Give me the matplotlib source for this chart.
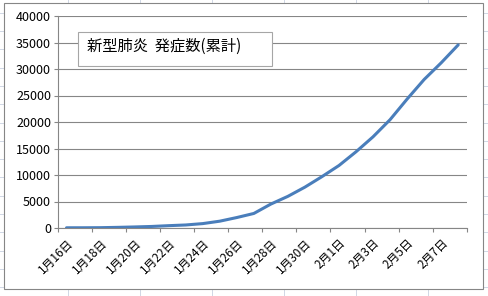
import matplotlib
matplotlib.use("Agg")
import matplotlib.pyplot as plt
from matplotlib.patches import Rectangle
from matplotlib.lines import Line2D

plt.rcParams['font.family'] = ['Noto Sans CJK JP', 'DejaVu Sans']

# ---- data ----
dates = ["1月16日", "1月17日", "1月18日", "1月19日", "1月20日", "1月21日",
         "1月22日", "1月23日", "1月24日", "1月25日", "1月26日", "1月27日",
         "1月28日", "1月29日", "1月30日", "1月31日", "2月1日", "2月2日",
         "2月3日", "2月4日", "2月5日", "2月6日", "2月7日", "2月8日"]
cases = [41, 45, 62, 121, 198, 291, 440, 571, 830, 1287, 1975, 2744,
         4515, 5974, 7711, 9692, 11791, 14380, 17205, 20438, 24324,
         28018, 31161, 34546]
yticks = [0, 5000, 10000, 15000, 20000, 25000, 30000, 35000, 40000]
title = "新型肺炎  発症数(累計)"

W, H = 489, 296
fig = plt.figure(figsize=(W / 100, H / 100), dpi=100)
fig.patch.set_facecolor('white')

def fx(px):
    return px / W

def fy(py):
    return 1 - py / H

# Excel sheet cell grid in background
cell = '#d0d7e5'
for k in range(0, 17):
    y = 12.7 + 18.3 * k
    fig.add_artist(Line2D([0, 1], [fy(y), fy(y)], transform=fig.transFigure,
                          color=cell, lw=0.7, zorder=0))
for k in range(0, 7):
    x = 68 + 72 * k
    fig.add_artist(Line2D([fx(x), fx(x)], [0, 1], transform=fig.transFigure,
                          color=cell, lw=0.7, zorder=0))

# chart area
fig.add_artist(Rectangle((fx(4), fy(289)), fx(483) - fx(4), fy(3) - fy(289),
                         transform=fig.transFigure, facecolor='white',
                         edgecolor='#868686', lw=0.8, zorder=1))

ax = fig.add_axes([fx(58), fy(228), fx(466.7) - fx(58), fy(16) - fy(228)], zorder=2)
ax.set_facecolor('none')

x = list(range(len(dates)))
ax.plot(x, cases, color='#4a7ebb', lw=2.2, solid_capstyle='round', zorder=3)

ax.set_xlim(-0.5, len(dates) - 0.5)
ax.set_ylim(0, 40000)
ax.set_yticks(yticks)
ax.set_yticklabels([str(v) for v in yticks], fontsize=9)
ax.yaxis.grid(True, color='#868686', lw=0.8)
ax.set_axisbelow(True)

major = [i - 0.5 for i in range(0, len(dates) + 1, 2)]
ax.set_xticks(major)
ax.set_xticklabels([''] * len(major))
ax.set_xticks(x[::2], minor=True)
ax.set_xticklabels(dates[::2], minor=True, rotation=45, ha='right',
                   rotation_mode='anchor', fontsize=8.5)
ax.tick_params(axis='x', which='minor', length=0, pad=6)
ax.tick_params(axis='x', which='major', length=3, color='#868686', width=0.8)
ax.tick_params(axis='y', length=3, color='#868686', width=0.8, pad=2)

for s in ['top', 'right']:
    ax.spines[s].set_visible(False)
for s in ['left', 'bottom']:
    ax.spines[s].set_color('#868686')
    ax.spines[s].set_linewidth(0.8)

# title box
fig.add_artist(Rectangle((fx(77.7), fy(66)), fx(272.3) - fx(77.7), fy(31.7) - fy(66),
                         transform=fig.transFigure, facecolor='white',
                         edgecolor='#a6a6a6', lw=0.8, zorder=4))
fig.text(fx(87.5), fy(46.5), title, fontsize=11, va='center', ha='left', zorder=5)

fig.savefig('out.png', dpi=100)
